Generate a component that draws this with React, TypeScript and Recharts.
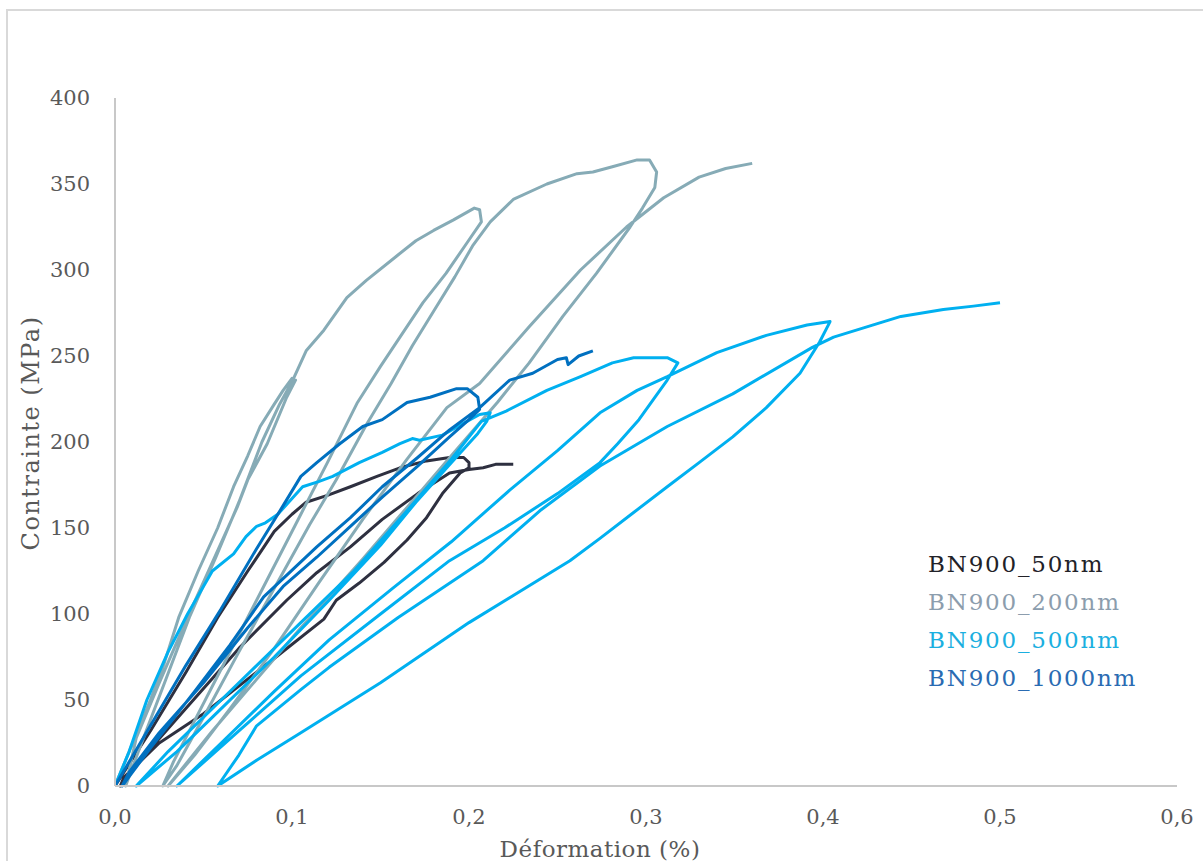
import React from 'react';
import { LineChart, Line, XAxis, YAxis } from 'recharts';

// ---- Data (strain %, stress MPa) ----
const s50Strain = [0, 0.02, 0.04, 0.058, 0.075, 0.09, 0.1, 0.108, 0.12, 0.133, 0.148, 0.161, 0.176, 0.189, 0.197, 0.2, 0.2,
  0.195, 0.185, 0.176, 0.165, 0.152, 0.138, 0.125, 0.118, 0.091, 0.05, 0.025, 0.005, 0.003,
  0.01, 0.04, 0.07, 0.097, 0.114, 0.133, 0.151, 0.171, 0.189, 0.2, 0.208, 0.215, 0.223, 0.225];
const s50Stress = [0, 32, 66, 98, 125, 148, 158, 165, 169, 174, 180, 185, 189, 191, 191, 188, 185,
  182, 170, 156, 143, 130, 118, 108, 97, 75, 42, 25, 5, 0,
  10, 45, 80, 108, 124, 139, 155, 170, 182, 184, 185, 187, 187, 187];

const s200Strain = [0, 0.01, 0.02, 0.028, 0.036, 0.047, 0.058, 0.067, 0.075, 0.082, 0.09, 0.095, 0.1, 0.102,
  0.097, 0.086, 0.075, 0.069, 0.055, 0.041, 0.025, 0.012, 0.006,
  0.015, 0.028, 0.042, 0.057, 0.07, 0.083, 0.093, 0.1, 0.108, 0.118, 0.131, 0.142, 0.159, 0.17, 0.18, 0.191, 0.203, 0.206, 0.207,
  0.199, 0.187, 0.174, 0.161, 0.15, 0.137, 0.12, 0.1, 0.08, 0.06, 0.045, 0.033, 0.027,
  0.035, 0.05, 0.07, 0.09, 0.11, 0.125, 0.142, 0.156, 0.168, 0.18, 0.192, 0.202, 0.212, 0.225, 0.244, 0.261, 0.27, 0.281, 0.295, 0.302,
  0.306, 0.305, 0.298, 0.291, 0.272, 0.253, 0.234, 0.216, 0.19, 0.165, 0.14, 0.121, 0.105, 0.08, 0.055, 0.03,
  0.045, 0.065, 0.09, 0.115, 0.14, 0.165, 0.1875, 0.206, 0.234, 0.263, 0.289, 0.31, 0.33, 0.345, 0.36];
const s200Stress = [0, 25, 50, 72, 98, 125, 150, 174, 192, 209, 222, 230, 237, 236,
  226, 199, 178, 162, 130, 98, 60, 28, 0,
  25, 60, 98, 133, 165, 200, 222, 235, 253, 265, 284, 294, 308, 317, 323, 329, 336, 335, 328,
  316, 298, 281, 261, 244, 223, 188, 148, 108, 68, 38, 14, 0,
  12, 40, 78, 115, 152, 178, 210, 234, 256, 276, 296, 314, 328, 341, 350, 356, 357, 360, 364, 364,
  357, 348, 336, 325, 298, 273, 246, 223, 192, 162, 132, 110, 92, 62, 32, 0,
  18, 45, 80, 118, 155, 190, 220, 234, 267, 300, 325, 342, 354, 359, 362];

const s500Strain = [0, 0.008, 0.018, 0.03, 0.041, 0.055, 0.067, 0.074, 0.08, 0.085, 0.092, 0.099, 0.106, 0.115, 0.123, 0.138, 0.151, 0.161, 0.168, 0.172, 0.185, 0.197, 0.206, 0.212,
  0.21, 0.205, 0.19, 0.17, 0.15, 0.121, 0.09, 0.06, 0.035, 0.012,
  0.03, 0.06, 0.1, 0.135, 0.165, 0.19, 0.207, 0.221, 0.244, 0.263, 0.281, 0.293, 0.312, 0.318,
  0.312, 0.305, 0.296, 0.284, 0.274, 0.25, 0.22, 0.189, 0.15, 0.105, 0.07, 0.035,
  0.06, 0.09, 0.121, 0.157, 0.19, 0.223, 0.25, 0.274, 0.295, 0.312, 0.34, 0.368, 0.391, 0.404,
  0.398, 0.387, 0.368, 0.349, 0.33, 0.312, 0.293, 0.274, 0.257, 0.2, 0.15, 0.105, 0.08, 0.058,
  0.07, 0.08, 0.105, 0.121, 0.16, 0.208, 0.24, 0.274, 0.312, 0.349, 0.394, 0.406, 0.444, 0.468, 0.485, 0.5];
const s500Stress = [0, 20, 50, 78, 100, 125, 135, 145, 151, 153, 158, 166, 174, 177, 180, 188, 194, 199, 202, 201, 204, 211, 216, 217,
  212, 205, 188, 165, 140, 108, 75, 45, 20, 0,
  20, 50, 90, 125, 160, 190, 212, 218, 230, 238, 246, 249, 249, 246,
  236, 226, 213, 199, 188, 170, 150, 131, 100, 64, 32, 0,
  25, 55, 85, 115, 142, 172, 195, 217, 230, 238, 252, 262, 268, 270,
  258, 240, 220, 203, 188, 174, 159, 144, 131, 95, 60, 31, 15, 0,
  18, 35, 56, 69, 98, 131, 160, 186, 209, 228, 255, 261, 273, 277, 279, 281];

const s1000Strain = [0, 0.02, 0.04, 0.06, 0.08, 0.095, 0.105, 0.114, 0.127, 0.14, 0.151, 0.165, 0.178, 0.193, 0.199, 0.205, 0.206,
  0.2, 0.189, 0.171, 0.151, 0.133, 0.114, 0.095, 0.075, 0.05, 0.025, 0.008, 0.004,
  0.02, 0.045, 0.065, 0.084, 0.114, 0.133, 0.151, 0.171, 0.189, 0.206, 0.223, 0.236, 0.25, 0.255, 0.256, 0.262, 0.27];
const s1000Stress = [0, 35, 70, 103, 138, 163, 180, 188, 199, 209, 213, 223, 226, 231, 231, 226, 219,
  213, 203, 186, 168, 151, 133, 116, 92, 60, 31, 8, 0,
  22, 55, 82, 110, 139, 156, 174, 191, 207, 220, 236, 240, 248, 249, 245, 250, 253];

const xTicks = [0, 0.1, 0.2, 0.3, 0.4, 0.5, 0.6];
const yTicks = [0, 50, 100, 150, 200, 250, 300, 350, 400];

const seriesNames = ['BN900_50nm', 'BN900_200nm', 'BN900_500nm', 'BN900_1000nm'];
const seriesColors = ['#2E3040', '#86ABB6', '#00B0F0', '#0070C0'];
const legendColors = ['#222228', '#8C9DAD', '#1BAFE0', '#2A6BB2'];

const build = (xs: number[], ys: number[]) => xs.map((x, i) => ({ x, y: ys[i] }));
const series = [
  build(s50Strain, s50Stress),
  build(s200Strain, s200Stress),
  build(s500Strain, s500Stress),
  build(s1000Strain, s1000Stress),
];

const FONT = '"DejaVu Serif", serif';

export default function App() {
  return (
    <div style={{ position: 'absolute', left: 0, top: 0, width: 1203, height: 861, overflow: 'hidden', background: '#fff' }}>
      <div style={{ position: 'absolute', left: 6, top: 9, width: 1220, height: 900, border: '2px solid #D9D9D9' }} />
      <div style={{ position: 'absolute', left: 0, top: 0 }}>
        <LineChart width={1203} height={861} margin={{ top: 98, right: 26, bottom: 45, left: 15 }}>
          <XAxis
            type="number"
            dataKey="x"
            domain={[0, 0.6]}
            ticks={xTicks}
            allowDataOverflow
            tickFormatter={(v: number) => v.toFixed(1).replace('.', ',')}
            tickLine={false}
            tickSize={0}
            tickMargin={23}
            height={30}
            axisLine={{ stroke: '#C8C8C8', strokeWidth: 2 }}
            tick={{ fill: '#595959', fontFamily: FONT, fontSize: 21 }}
            label={{
              content: () => (
                <text x={600} y={857} textAnchor="middle" fill="#595959" fontFamily={FONT} fontSize={23} letterSpacing={0.5}>Déformation (%)</text>
              ),
            }}
          />
          <YAxis
            type="number"
            dataKey="y"
            domain={[0, 400]}
            ticks={yTicks}
            width={100}
            tickLine={false}
            tickSize={0}
            tickMargin={25}
            axisLine={{ stroke: '#C8C8C8', strokeWidth: 2 }}
            tick={{ fill: '#595959', fontFamily: FONT, fontSize: 21 }}
            label={{
              content: () => (
                <text x={39} y={433} textAnchor="middle" fill="#595959" fontFamily={FONT} fontSize={24} letterSpacing={1.5} transform="rotate(-90 39 433)">Contrainte (MPa)</text>
              ),
            }}
          />
          {series.map((d, i) => (
            <Line
              key={seriesNames[i]}
              data={d}
              dataKey="y"
              name={seriesNames[i]}
              type="linear"
              stroke={seriesColors[i]}
              strokeWidth={3}
              dot={false}
              isAnimationActive={false}
              strokeLinejoin="round"
            />
          ))}
        </LineChart>
      </div>
      <div style={{ position: 'absolute', left: 928, top: 545, fontFamily: FONT, fontSize: 23, lineHeight: '38px' }}>
        {seriesNames.map((n, i) => (
          <div key={n} style={{ color: legendColors[i], letterSpacing: 1.8 }}>{n}</div>
        ))}
      </div>
    </div>
  );
}
